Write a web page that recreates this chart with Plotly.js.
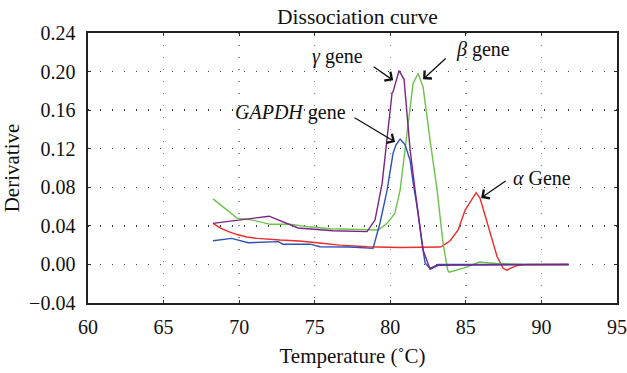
<!DOCTYPE html>
<html>
<head>
<meta charset="utf-8">
<script src="https://cdn.plot.ly/plotly-3.0.1.min.js"></script>
<style>html,body{margin:0;padding:0;background:#fff;}#chart{width:627px;height:373px;}</style>
</head>
<body>
<div id="chart"></div>
<script>
// Temperature (°C) and derivative values
const alphaT = [68.27, 68.74, 69.3, 69.86, 70.5, 71.2, 72.7, 74.0, 75.15, 76.68, 78.46, 80.65, 83.3, 83.43, 83.96, 84.49, 84.95, 85.41, 85.68, 85.94, 86.47, 87.07, 87.46, 87.73, 87.93, 88.39, 89.05, 91.8];
const alphaV = [0.0426, 0.038, 0.034, 0.031, 0.0285, 0.027, 0.0253, 0.0243, 0.0225, 0.020, 0.0184, 0.0175, 0.018, 0.019, 0.0246, 0.0357, 0.0564, 0.0686, 0.0744, 0.0686, 0.039, 0.008, -0.004, -0.006, -0.004, -0.0013, 0.0, 0.0];

const betaT = [68.27, 69.86, 70.9, 72.05, 73.37, 74.6, 76.0, 77.5, 78.46, 79.2, 79.79, 80.3, 80.65, 80.98, 81.31, 81.51, 81.84, 82.17, 82.63, 83.1, 83.49, 83.8, 83.9, 85.0, 85.9, 87.0, 89.05, 91.8];
const betaV = [0.068, 0.048, 0.046, 0.0416, 0.0416, 0.039, 0.037, 0.0364, 0.0357, 0.0357, 0.0426, 0.053, 0.077, 0.119, 0.163, 0.188, 0.198, 0.184, 0.129, 0.077, 0.022, -0.006, -0.008, -0.003, 0.0025, 0.001, 0.0, 0.0];

const gapdhT = [68.27, 69.5, 70.6, 72.6, 72.9, 74.7, 75.35, 77.3, 78.86, 79.32, 79.79, 80.18, 80.38, 80.65, 80.98, 81.31, 81.5, 81.77, 82.1, 82.3, 82.63, 83.16, 91.8];
const gapdhV = [0.0246, 0.027, 0.0225, 0.0236, 0.021, 0.021, 0.0184, 0.018, 0.0167, 0.043, 0.077, 0.115, 0.124, 0.130, 0.124, 0.108, 0.086, 0.06, 0.022, 0.0015, -0.004, 0.0, 0.0];

const gammaT = [68.27, 71.98, 73.9, 76.2, 78.46, 78.99, 79.46, 79.79, 80.12, 80.18, 80.58, 80.91, 81.31, 81.64, 82.17, 82.63, 83.16, 91.8];
const gammaV = [0.0426, 0.050, 0.0378, 0.035, 0.034, 0.046, 0.084, 0.132, 0.178, 0.179, 0.201, 0.192, 0.119, 0.077, 0.015, -0.005, -0.001, 0.0];

const seriesNames = ['α Gene', 'β gene', 'GAPDH gene', 'γ gene'];
const seriesColors = ['#ee2a2a', '#6cc24a', '#2d52b8', '#7b2387'];

const xTicks = [60, 65, 70, 75, 80, 85, 90, 95];
const yTicks = [-0.04, 0.00, 0.04, 0.08, 0.12, 0.16, 0.20, 0.24];

// Label text and arrow (head, tail) positions in data units
const labelTexts = ['<i>γ</i> gene', '<i>β</i> gene', '<i>GAPDH</i> gene', '<i>α</i> Gene'];
const labelX = [76.48, 86.14, 73.37, 90.05];
const labelY = [0.2152, 0.2224, 0.158, 0.0897];
const arrowHeadX = [80.19, 82.17, 80.32, 86.01];
const arrowHeadY = [0.191, 0.192, 0.127, 0.069];
const arrowTailX = [78.8, 83.76, 77.54, 87.73];
const arrowTailY = [0.206, 0.215, 0.153, 0.0876];

const xs = [alphaT, betaT, gapdhT, gammaT];
const ys = [alphaV, betaV, gapdhV, gammaV];

const traces = xs.map((x, i) => ({
  x: x, y: ys[i], type: 'scatter', mode: 'lines', name: seriesNames[i],
  line: {color: seriesColors[i], width: 1.4}
}));

const font = 'Liberation Serif, Times New Roman, serif';
const annotations = [];
labelTexts.forEach((t, i) => {
  annotations.push({x: labelX[i], y: labelY[i], xref: 'x', yref: 'y', text: t,
    showarrow: false, font: {family: font, size: 20, color: '#111'}});
  annotations.push({x: arrowHeadX[i], y: arrowHeadY[i], ax: arrowTailX[i], ay: arrowTailY[i],
    xref: 'x', yref: 'y', axref: 'x', ayref: 'y', text: '', showarrow: true,
    arrowhead: 4, arrowsize: 1.6, arrowwidth: 1.3, arrowcolor: '#111'});
});

const layout = {
  width: 627, height: 373,
  margin: {l: 88, r: 10, t: 33, b: 70},
  paper_bgcolor: '#fff', plot_bgcolor: '#fff',
  showlegend: false,
  font: {family: font, size: 20, color: '#111'},
  title: {text: 'Dissociation curve', x: 0.57, xanchor: 'center', y: 0.955, yanchor: 'middle',
    font: {family: font, size: 21.5, color: '#111'}},
  xaxis: {
    range: [60, 95], tickvals: xTicks, ticktext: xTicks.map(String),
    showline: true, linecolor: '#222', linewidth: 1.6, mirror: 'ticks',
    ticks: 'inside', ticklen: 3, tickcolor: '#333', ticklabelstandoff: 5,
    showgrid: true, gridcolor: '#8a8a8a', gridwidth: 1.3, griddash: '1.3px,10.7px',
    zeroline: false,
    tickfont: {family: font, size: 20, color: '#111'},
    title: {text: 'Temperature (˚C)', font: {family: font, size: 21, color: '#111'}, standoff: 12}
  },
  yaxis: {
    range: [-0.04, 0.24], tickvals: yTicks, ticktext: yTicks.map(v => (v < 0 ? '−' : '') + Math.abs(v).toFixed(2)),
    showline: true, linecolor: '#222', linewidth: 1.6, mirror: 'ticks',
    ticks: 'inside', ticklen: 3, tickcolor: '#333', ticklabelstandoff: 7,
    showgrid: true, gridcolor: '#444', gridwidth: 1.3, griddash: '1.3px,10.7px',
    zeroline: false,
    tickfont: {family: font, size: 20, color: '#111'},
    title: {text: 'Derivative', font: {family: font, size: 21, color: '#111'}, standoff: 6}
  },
  annotations: annotations
};

Plotly.newPlot('chart', traces, layout, {displayModeBar: false, staticPlot: true});
</script>
</body>
</html>
